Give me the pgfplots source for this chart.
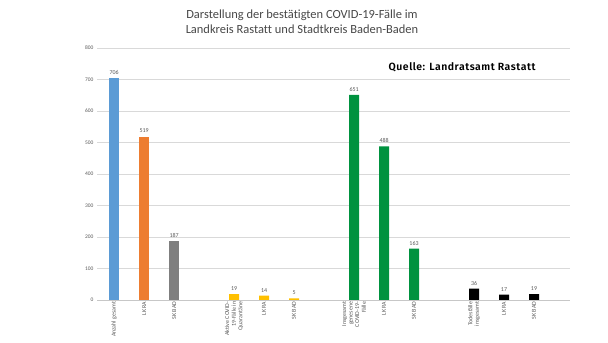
\documentclass[border=0pt]{standalone}
\usepackage{pgfplots}
\pgfplotsset{compat=1.18}
\usepackage{fontspec}
\setmainfont{Carlito}[Ligatures=NoCommon]
\newfontfamily\quellefont[LetterSpace=5]{Fira Sans SemiBold}
\definecolor{cblue}{HTML}{5B9BD5}
\definecolor{corange}{HTML}{ED7D31}
\definecolor{cgray}{HTML}{7F7F7F}
\definecolor{cyellow}{HTML}{FFC000}
\definecolor{cgreen}{HTML}{00923F}
\definecolor{gridc}{HTML}{D9D9D9}
\definecolor{txtc}{HTML}{595959}
\begin{document}
\begin{tikzpicture}[x=1bp,y=1bp]
\path[use as bounding box] (0,0) rectangle (608,342);
\begin{axis}[
  at={(97bp,42bp)}, anchor=south west,
  scale only axis, width=473bp, height=252bp,
  xmin=-0.57, xmax=15.2, ymin=0, ymax=800,
  ytick={0,100,...,800},
  xtick={0,1,2,4,5,6,8,9,10,12,13,14},
  xticklabels={Anzahl gesamt,LK RA,SK BAD,{Aktive COVID-\\19-Fälle in\\Quarantäne},LK RA,SK BAD,{Insgesamt\\genesene\\COVID-19-\\Fälle},LK RA,SK BAD,{Todesfälle\\insgesamt},LK RA,SK BAD},
  xticklabel style={rotate=90, anchor=east, align=right, font=\fontsize{6}{6.6}\selectfont, text=txtc, inner sep=1.5pt},
  /pgf/number format/assume math mode=true,
  yticklabel style={font=\fontsize{5.5}{6}\selectfont, text=txtc},
  major tick length=0pt,
  axis line style={draw=none},
  ymajorgrids, grid style={gridc, line width=0.6pt},
  ybar, bar width=10bp, bar shift=0pt,
  nodes near coords,
  every node near coord/.append style={font=\fontsize{6}{6.5}\selectfont, text=txtc},
  clip=false,
]
\addplot[fill=cblue, draw=none] coordinates {(0,706)};
\addplot[fill=corange, draw=none] coordinates {(1,519)};
\addplot[fill=cgray, draw=none] coordinates {(2,187)};
\addplot[fill=cyellow, draw=none] coordinates {(4,19) (5,14) (6,5)};
\addplot[fill=cgreen, draw=none] coordinates {(8,651) (9,488) (10,163)};
\addplot[fill=black, draw=none] coordinates {(12,36) (13,17) (14,19)};
\draw[gridc!80!gray, line width=0.6pt] (axis cs:-0.57,0) -- (axis cs:15.2,0);
\end{axis}
\node[font=\fontsize{12.5}{15}\selectfont, text=txtc!80!black, align=center] at (302,320.5) {Darstellung der bestätigten COVID-19-Fälle im\\Landkreis Rastatt und Stadtkreis Baden-Baden};
\node[font=\quellefont\fontsize{10.5}{12}\selectfont, anchor=east] at (539,275) {Quelle: Landratsamt Rastatt};
\end{tikzpicture}
\end{document}
